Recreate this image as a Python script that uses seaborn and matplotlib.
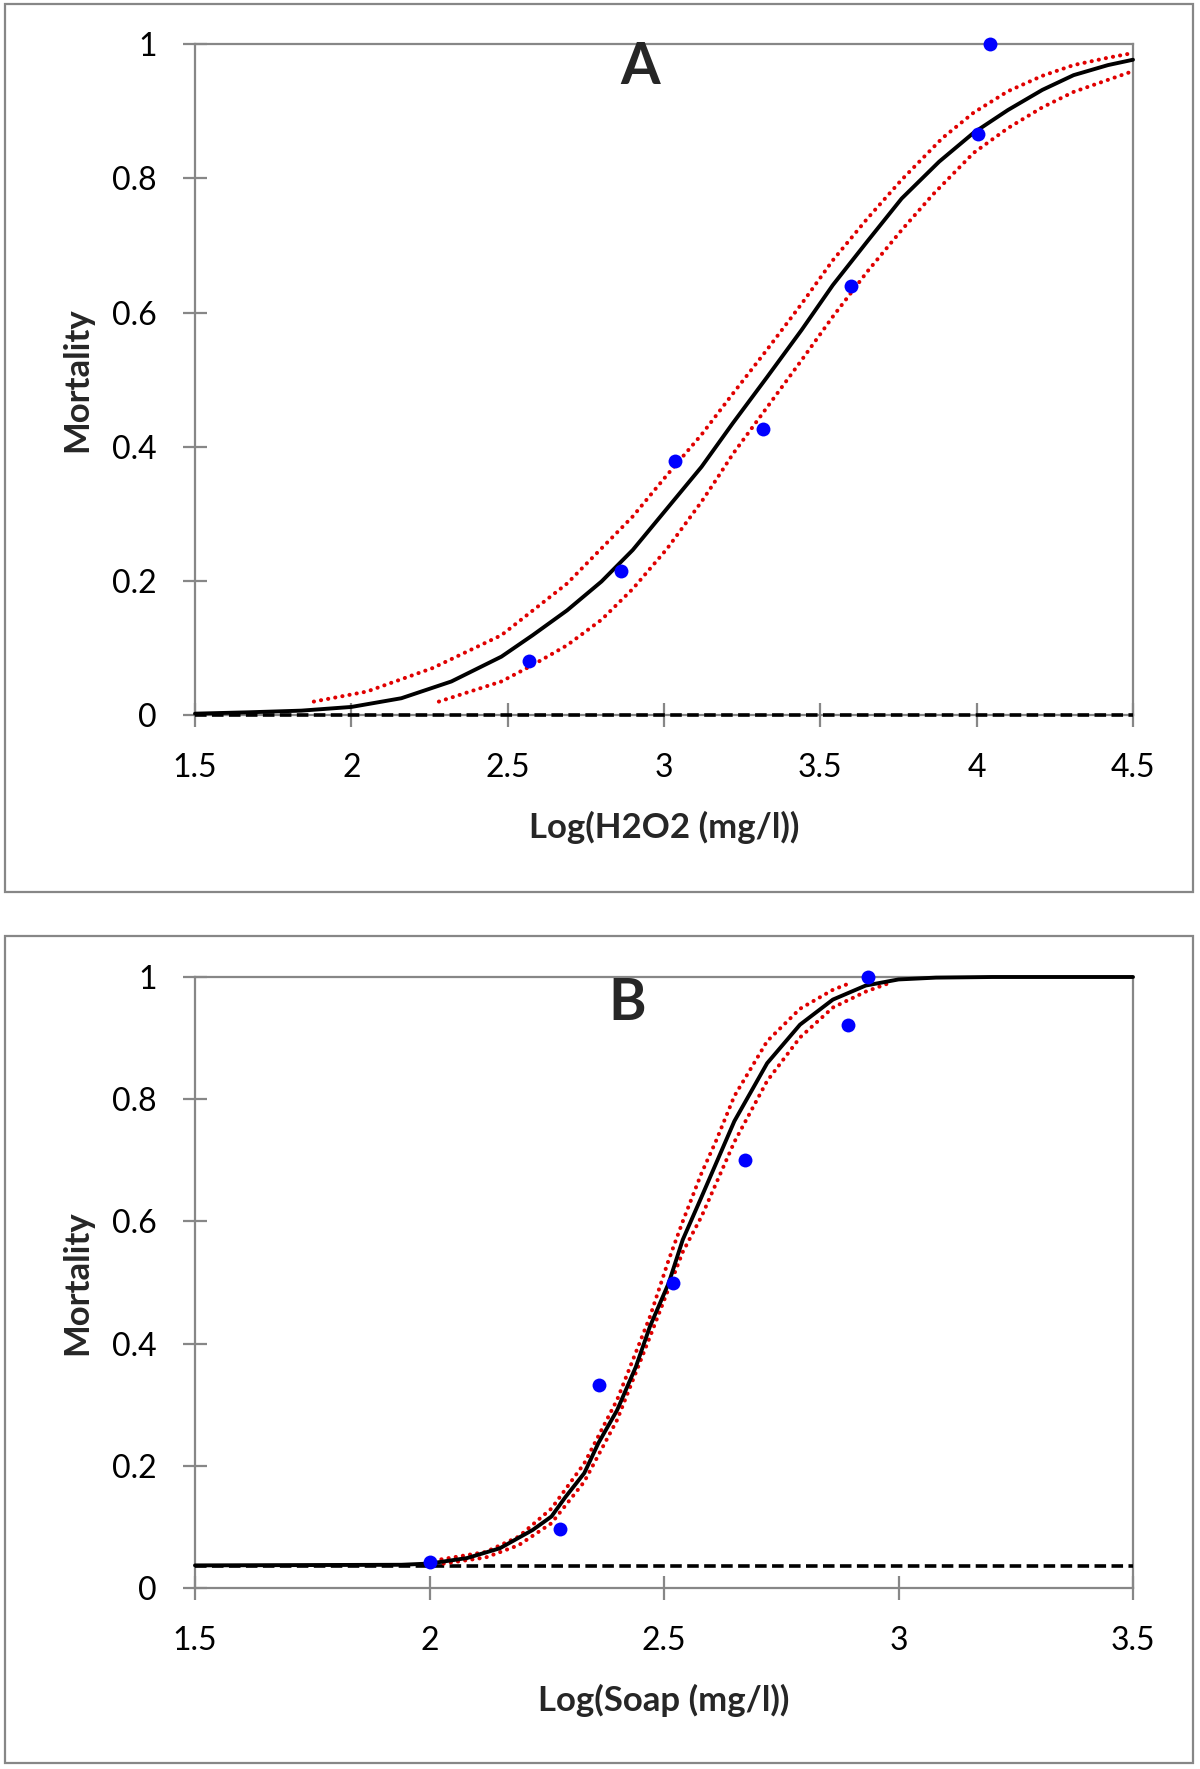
"""Mortalitäts-Dosis-Wirkungskurven (H2O2 und Seife) mit Konfidenzband."""

import matplotlib.pyplot as plt
import matplotlib.ticker as mticker
from matplotlib.patches import Rectangle
import seaborn as sns

sns.set_theme(style="white")
plt.rcParams["font.family"] = ["Lato", "DejaVu Sans"]

# --- Panel A: H2O2 ---------------------------------------------------------
a_obs_x = [2.568, 2.863, 3.034, 3.317, 3.598, 4.005, 4.043]
a_obs_y = [0.080, 0.214, 0.379, 0.426, 0.640, 0.866, 1.000]

a_fit_x = [1.50, 1.67, 1.84, 2.00, 2.16, 2.32, 2.48, 2.58, 2.69, 2.80, 2.90, 3.01, 3.12,
           3.22, 3.33, 3.44, 3.54, 3.65, 3.76, 3.88, 3.99, 4.10, 4.21, 4.31, 4.42, 4.50]
a_fit_y = [0.002, 0.004, 0.0065, 0.012, 0.025, 0.050, 0.087, 0.119, 0.156, 0.199, 0.246,
           0.308, 0.370, 0.435, 0.504, 0.574, 0.641, 0.706, 0.770, 0.825, 0.868, 0.902,
           0.932, 0.954, 0.969, 0.977]

a_upper_x = [1.88, 2.05, 2.26, 2.48, 2.69, 2.90, 3.01, 3.12, 3.22, 3.33, 3.44, 3.54, 3.65,
             3.76, 3.89, 3.99, 4.10, 4.21, 4.31, 4.42, 4.50]
a_upper_y = [0.020, 0.035, 0.070, 0.119, 0.196, 0.296, 0.358, 0.418, 0.479, 0.545, 0.613,
             0.678, 0.740, 0.798, 0.860, 0.898, 0.930, 0.953, 0.969, 0.980, 0.987]

a_lower_x = [2.28, 2.48, 2.58, 2.69, 2.80, 2.90, 3.01, 3.12, 3.17, 3.22, 3.33, 3.44, 3.54,
             3.65, 3.76, 3.86, 3.99, 4.10, 4.21, 4.31, 4.42, 4.50]
a_lower_y = [0.020, 0.050, 0.0745, 0.104, 0.142, 0.188, 0.248, 0.318, 0.353, 0.389, 0.459,
             0.529, 0.594, 0.661, 0.723, 0.776, 0.838, 0.875, 0.906, 0.929, 0.947, 0.960]

a_control = 0.0
a_xticks = [1.5, 2, 2.5, 3, 3.5, 4, 4.5]
a_xticklabels = ["1.5", "2", "2.5", "3", "3.5", "4", "4.5"]

# --- Panel B: Seife --------------------------------------------------------
b_obs_x = [2.000, 2.279, 2.362, 2.519, 2.672, 2.892, 2.936]
b_obs_y = [0.043, 0.097, 0.333, 0.500, 0.700, 0.921, 1.000]

b_fit_x = [1.50, 1.94, 2.00, 2.08, 2.15, 2.22, 2.26, 2.29, 2.33, 2.36, 2.40, 2.44, 2.47,
           2.51, 2.54, 2.58, 2.65, 2.72, 2.79, 2.86, 2.93, 3.00, 3.08, 3.20, 3.50]
b_fit_y = [0.037, 0.038, 0.040, 0.049, 0.065, 0.095, 0.117, 0.149, 0.188, 0.237, 0.291,
           0.362, 0.428, 0.499, 0.570, 0.640, 0.764, 0.859, 0.922, 0.963, 0.986, 0.996,
           0.999, 1.000, 1.000]

b_upper_x = [2.01, 2.12, 2.19, 2.26, 2.33, 2.40, 2.47, 2.51, 2.54, 2.58, 2.61, 2.65, 2.72,
             2.79, 2.86, 2.90]
b_upper_y = [0.045, 0.059, 0.084, 0.130, 0.204, 0.308, 0.444, 0.537, 0.600, 0.679, 0.730,
             0.805, 0.895, 0.948, 0.979, 0.991]

b_lower_x = [2.03, 2.12, 2.19, 2.26, 2.33, 2.40, 2.47, 2.54, 2.58, 2.65, 2.72, 2.79, 2.86,
             2.93, 2.98]
b_lower_y = [0.040, 0.050, 0.070, 0.106, 0.174, 0.275, 0.411, 0.550, 0.608, 0.730, 0.830,
             0.901, 0.950, 0.976, 0.990]

b_control = 0.036
b_xticks = [1.5, 2, 2.5, 3, 3.5]
b_xticklabels = ["1.5", "2", "2.5", "3", "3.5"]

y_ticks = [0, 0.2, 0.4, 0.6, 0.8, 1]
y_ticklabels = ["0", "0.2", "0.4", "0.6", "0.8", "1"]

GRAY = "#878787"
RED = "#e00000"
BLUE = "#0000ff"
W, H = 1200, 1769


def draw_panel(ax, obs_x, obs_y, fit_x, fit_y, up_x, up_y, lo_x, lo_y, control,
               xticks, xticklabels, xlabel, letter, letter_pos, xlabel_y):
    ax.axhline(control, color="black", linewidth=2.6, linestyle=(0, (3.2, 1.5)),
               zorder=3, clip_on=False)
    for xs, ys in ((up_x, up_y), (lo_x, lo_y)):
        sns.lineplot(x=xs, y=ys, ax=ax, color=RED, linewidth=2.9, estimator=None,
                     sort=False, linestyle=(0, (0.05, 1.75)), dash_capstyle="round",
                     zorder=3)
    sns.lineplot(x=fit_x, y=fit_y, ax=ax, color="black", linewidth=2.8, estimator=None,
                 sort=False, zorder=4, clip_on=False, solid_joinstyle="round")
    sns.scatterplot(x=obs_x, y=obs_y, ax=ax, color=BLUE, s=100, linewidth=0, zorder=5,
                    clip_on=False)

    ax.set_xlim(xticks[0], xticks[-1])
    ax.set_ylim(0, 1)
    ax.xaxis.set_major_locator(mticker.FixedLocator(xticks))
    ax.xaxis.set_major_formatter(mticker.FixedFormatter(xticklabels))
    ax.yaxis.set_major_locator(mticker.FixedLocator(y_ticks))
    ax.yaxis.set_major_formatter(mticker.FixedFormatter(y_ticklabels))
    ax.tick_params(axis="both", direction="inout", length=17, width=1.6, color=GRAY,
                   labelsize=23, labelcolor="black", pad=19)
    ax.tick_params(axis="x", bottom=True)
    ax.tick_params(axis="y", left=True)
    for side in ("left", "right", "top", "bottom"):
        ax.spines[side].set_visible(True)
        ax.spines[side].set_color(GRAY)
        ax.spines[side].set_linewidth(1.6)

    ax.set_xlabel(xlabel, fontsize=25, fontweight="bold", va="center")
    ax.set_ylabel("Mortality", fontsize=25, fontweight="bold", va="center")
    ax.xaxis.set_label_coords(0.5, xlabel_y)
    ax.yaxis.set_label_coords(-0.1258, 0.5)
    ax.text(letter_pos[0], letter_pos[1], letter, transform=ax.transAxes, fontsize=41,
            fontweight="bold", ha="center", va="baseline")


fig = plt.figure(figsize=(W / 100, H / 100), dpi=100)
fig.patch.set_facecolor("white")

ax_a = fig.add_axes([195 / W, 1 - 715 / H, 938 / W, 670.7 / H])
ax_b = fig.add_axes([195 / W, 1 - 1588 / H, 938 / W, 611 / H])

draw_panel(ax_a, a_obs_x, a_obs_y, a_fit_x, a_fit_y, a_upper_x, a_upper_y,
           a_lower_x, a_lower_y, a_control, a_xticks, a_xticklabels,
           "Log(H2O2 (mg/l))", "A", (0.4744, 0.9408), -0.167)
draw_panel(ax_b, b_obs_x, b_obs_y, b_fit_x, b_fit_y, b_upper_x, b_upper_y,
           b_lower_x, b_lower_y, b_control, b_xticks, b_xticklabels,
           "Log(Soap (mg/l))", "B", (0.461, 0.9296), -0.1833)

# Rahmen um die beiden Teilabbildungen
for top, bottom in ((4, 892), (936, 1763)):
    fig.patches.append(Rectangle((5 / W, 1 - bottom / H), 1188 / W, (bottom - top) / H,
                                 transform=fig.transFigure, fill=False,
                                 edgecolor=GRAY, linewidth=1.6))

fig.savefig("out.png", dpi=100, facecolor="white")
plt.close(fig)
